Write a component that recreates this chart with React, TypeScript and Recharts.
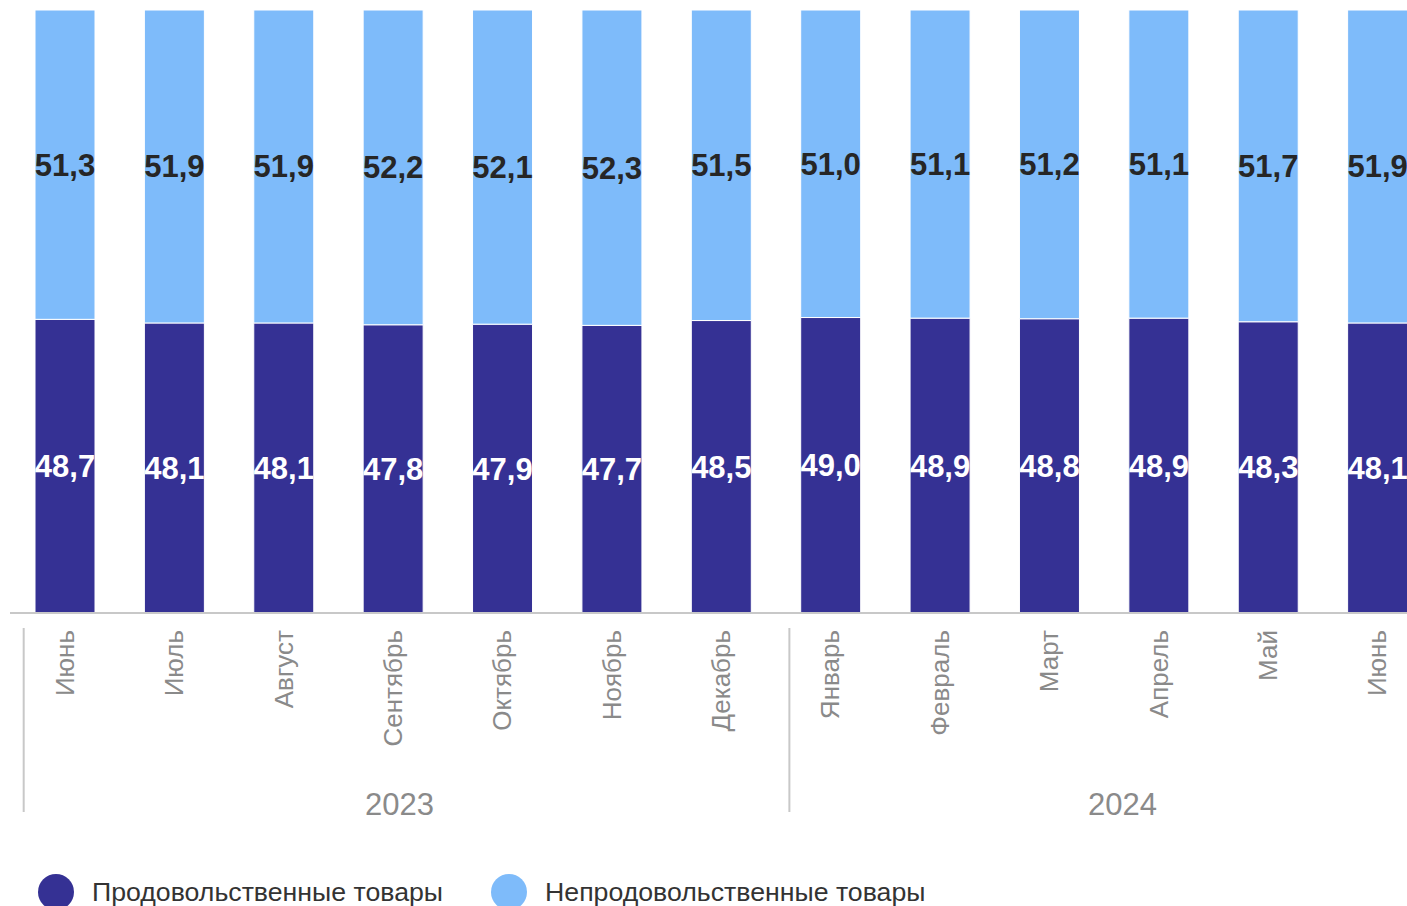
import { Bar, BarChart, LabelList, XAxis, YAxis } from "recharts";

const months = ["Июнь", "Июль", "Август", "Сентябрь", "Октябрь", "Ноябрь", "Декабрь", "Январь", "Февраль", "Март", "Апрель", "Май", "Июнь"];
const yearOfMonth = ["2023", "2023", "2023", "2023", "2023", "2023", "2023", "2024", "2024", "2024", "2024", "2024", "2024"];
const food = [48.7, 48.1, 48.1, 47.8, 47.9, 47.7, 48.5, 49.0, 48.9, 48.8, 48.9, 48.3, 48.1];
const nonFood = [51.3, 51.9, 51.9, 52.2, 52.1, 52.3, 51.5, 51.0, 51.1, 51.2, 51.1, 51.7, 51.9];

const seriesNames = ["Продовольственные товары", "Непродовольственные товары"];
const seriesColors = ["#353194", "#7EBBFA"];

const data = months.map((m, i) => ({ month: m, year: yearOfMonth[i], food: food[i], nonFood: nonFood[i] }));

const CHART_W = 1440;
const CHART_H = 906;
const MARGIN = { top: 10, right: 8, left: 10, bottom: 0 };
const BAND = (CHART_W - MARGIN.left - MARGIN.right) / months.length;
const FONT = "'Liberation Sans', Arial, sans-serif";

const fmt = (v: any) => Number(v).toFixed(1).replace(".", ",");

function MonthTick(props: any) {
  const { x, y, payload, index } = props;
  const year = yearOfMonth[index];
  const firstOfYear = index === 0 || yearOfMonth[index - 1] !== year;
  let yearLabel = null;
  if (firstOfYear) {
    const count = yearOfMonth.filter((yy) => yy === year).length;
    const left = x - 41;
    const right = left + count * BAND;
    const shift = index === 0 ? -7 : 5;
    yearLabel = (
      <g>
        <line x1={left} x2={left} y1={y + 15} y2={y + 199} stroke="#c8c8c8" strokeWidth={2} />
        <text x={(left + right) / 2 + shift} y={y + 191} textAnchor="middle" dy="0.35em" fill="#8a8a8a" fontSize={31} fontFamily={FONT}>
          {year}
        </text>
      </g>
    );
  }
  return (
    <g>
      <text
        x={x}
        y={y + 17}
        transform={`rotate(-90, ${x}, ${y + 17})`}
        textAnchor="end"
        dy="0.35em"
        fill="#8a8a8a"
        fontSize={26}
        fontFamily={FONT}
      >
        {payload.value}
      </text>
      {yearLabel}
    </g>
  );
}

export default function App() {
  return (
    <div style={{ position: "fixed", left: 0, top: 0, width: 1407, height: 906, overflow: "hidden", background: "#fff" }}>
      <BarChart width={CHART_W} height={CHART_H} data={data} margin={MARGIN}>
        <XAxis
          dataKey="month"
          height={293}
          interval={0}
          tickLine={false}
          tickSize={0}
          tickMargin={0}
          axisLine={{ stroke: "#c8c8c8", strokeWidth: 2 }}
          tick={<MonthTick />}
        />
        <YAxis hide domain={[0, 100]} />
        <Bar dataKey="food" stackId="a" fill={seriesColors[0]} stroke="#fff" strokeWidth={1} barSize={60} isAnimationActive={false}>
          <LabelList dataKey="food" position="center" formatter={fmt} fill="#fff" fontSize={31} fontWeight="bold" fontFamily={FONT} />
        </Bar>
        <Bar dataKey="nonFood" stackId="a" fill={seriesColors[1]} stroke="#fff" strokeWidth={1} barSize={60} isAnimationActive={false}>
          <LabelList dataKey="nonFood" position="center" formatter={fmt} fill="#262626" fontSize={31} fontWeight="bold" fontFamily={FONT} />
        </Bar>
      </BarChart>
      <div style={{ position: "absolute", left: 38, top: 874, display: "flex", alignItems: "center", fontFamily: FONT, fontSize: 26.7, color: "#333" }}>
        {seriesNames.map((n, i) => (
          <div key={n} style={{ display: "flex", alignItems: "center", marginRight: i === 0 ? 48 : 0 }}>
            <span style={{ width: 36, height: 36, borderRadius: 18, background: seriesColors[i], display: "inline-block", marginRight: 18 }} />
            <span>{n}</span>
          </div>
        ))}
      </div>
    </div>
  );
}
